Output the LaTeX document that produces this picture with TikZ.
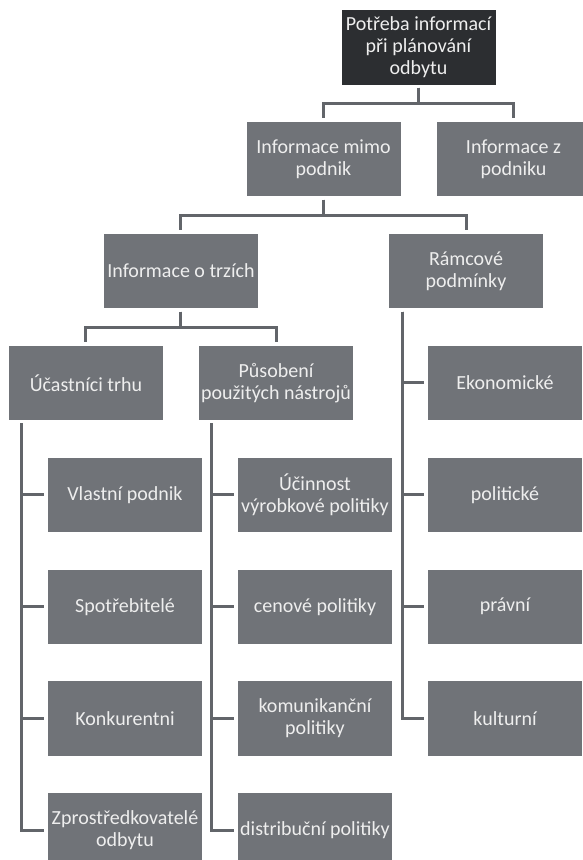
\documentclass[tikz,border=0pt]{standalone}
\usepackage{fontspec}
\setmainfont{Carlito}
\usepackage{tikz}
\usetikzlibrary{positioning,calc}
\definecolor{boxgray}{RGB}{112,115,120}
\definecolor{topdark}{RGB}{44,46,49}
\definecolor{linegray}{RGB}{98,101,106}
\definecolor{boxtext}{RGB}{238,238,238}

\begin{document}
\begin{tikzpicture}[
  x=1bp, y=1bp,
  node distance=37bp,
  every node/.style={font=\fontsize{20bp}{22bp}\selectfont, fill=boxgray, text=boxtext,
    minimum width=154bp, minimum height=74.5bp, inner sep=0pt, align=center},
  conn/.style={draw=linegray, line width=3bp, shorten <=3bp, shorten >=4bp}
]
\useasboundingbox (0,0) rectangle (583,-860);
\node[fill=topdark] (need) at (418.5,-47.25) {Potřeba informací\\při plánování\\odbytu};
\node[below=of need, xshift=-95bp] (outside) {Informace mimo\\podnik};
\node[below=of need, xshift=95bp] (inside) {Informace z\\podniku};
\node[below=of outside, xshift=-142.5bp] (markets) {Informace o trzích};
\node[below=of outside, xshift=142.5bp] (frame) {Rámcové\\podmínky};
\node[below=of markets, xshift=-95bp] (actors) {Účastníci trhu};
\node[below=of markets, xshift=95bp] (tools) {Působení\\použitých nástrojů};
\node[below=of actors, xshift=39bp] (own) {Vlastní podnik};
\node[below=of own] (cons) {Spotřebitelé};
\node[below=of cons] (comp) {Konkurentni};
\node[below=of comp] (mid) {Zprostředkovatelé\\odbytu};
\node[below=of tools, xshift=39bp] (prod) {Účinnost\\výrobkové politiky};
\node[below=of prod] (price) {cenové politiky};
\node[below=of price] (comm) {komunikanční\\politiky};
\node[below=of comm] (dist) {distribuční politiky};
\node[below=of frame, xshift=39bp] (econ) {Ekonomické};
\node[below=of econ] (pol) {politické};
\node[below=of pol] (law) {právní};
\node[below=of law] (cult) {kulturní};

\draw[conn] (need.south) |- ($(need.south)!.5!(outside.north)$) -| (outside.north);
\draw[conn] (need.south) |- ($(need.south)!.5!(inside.north)$) -| (inside.north);
\draw[conn] (outside.south) |- ($(outside.south)!.5!(markets.north)$) -| (markets.north);
\draw[conn] (outside.south) |- ($(outside.south)!.5!(frame.north)$) -| (frame.north);
\draw[conn] (markets.south) |- ($(markets.south)!.5!(actors.north)$) -| (actors.north);
\draw[conn] (markets.south) |- ($(markets.south)!.5!(tools.north)$) -| (tools.north);
\draw[conn] ([xshift=13bp]actors.south west) |- (own.west);
\draw[conn] ([xshift=13bp]actors.south west) |- (cons.west);
\draw[conn] ([xshift=13bp]actors.south west) |- (comp.west);
\draw[conn] ([xshift=13bp]actors.south west) |- (mid.west);
\draw[conn] ([xshift=13bp]tools.south west) |- (prod.west);
\draw[conn] ([xshift=13bp]tools.south west) |- (price.west);
\draw[conn] ([xshift=13bp]tools.south west) |- (comm.west);
\draw[conn] ([xshift=13bp]tools.south west) |- (dist.west);
\draw[conn] ([xshift=14bp]frame.south west) |- (econ.west);
\draw[conn] ([xshift=14bp]frame.south west) |- (pol.west);
\draw[conn] ([xshift=14bp]frame.south west) |- (law.west);
\draw[conn] ([xshift=14bp]frame.south west) |- (cult.west);
\end{tikzpicture}
\end{document}
